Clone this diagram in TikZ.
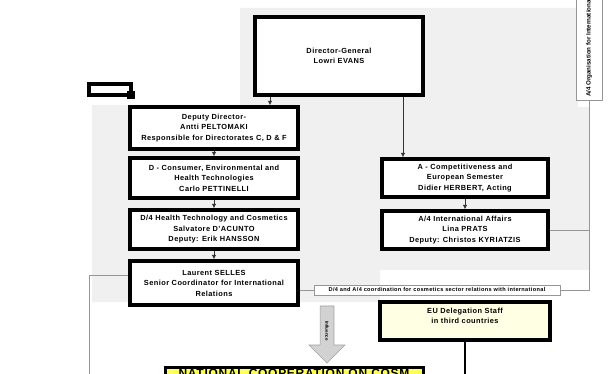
\documentclass[tikz,border=0pt]{standalone}
\usepackage{fontspec}
\setmainfont{Liberation Sans}
\usetikzlibrary{arrows.meta,shapes.arrows,positioning}

\definecolor{panelgrey}{RGB}{240,240,240}
\definecolor{linkgrey}{RGB}{150,150,150}
\definecolor{delcream}{RGB}{255,255,228}
\definecolor{natyellow}{RGB}{255,255,90}

\newcommand{\boxfont}{\bfseries\fontsize{7.4}{10.5}\selectfont\addfontfeatures{LetterSpace=6}}

\tikzset{
  orgbox/.style={draw, line width=3.2pt, fill=white, align=center, inner sep=0pt,
    font=\boxfont},
  lbox/.style={orgbox, minimum width=168pt, minimum height=40pt},
  rbox/.style={orgbox, minimum width=166pt, minimum height=38pt},
  downarrow/.style={-{Latex[length=4.5pt,width=4.5pt]}, line width=0.9pt, draw=black!80},
  linkline/.style={line width=0.8pt, draw=linkgrey},
}

\begin{document}
\begin{tikzpicture}[x=1pt,y=-1pt]
    \useasboundingbox (0,0) rectangle (608,374);
    \clip (0,0) rectangle (608,374);

    % Grey panel behind the chart
    \fill[panelgrey] (92,105) -- (240,105) -- (240,8) -- (578,8) -- (578,107)
        -- (590,107) -- (590,270) -- (380,270) -- (380,302) -- (92,302) -- cycle;

    % Minimised window icon
    \draw[line width=3.2pt] (89,84) rectangle (131,95);
    \fill (127,91) rectangle (135,99);

    % Director-General
    \node[orgbox, minimum width=168pt, minimum height=78pt] (dg) at (339,56)
        {Director-General\\Lowri EVANS};

    % Left column
    \node[lbox, minimum height=42pt] (deputy) at (214,128)
        {Deputy Director-\\Antti PELTOMAKI\\Responsible for Directorates C, D \& F};
    \node[lbox] (dirD) at (214,178)
        {D - Consumer, Environmental and\\Health Technologies\\Carlo PETTINELLI};
    \node[lbox, minimum height=39pt] (unitD4) at (214,229.5)
        {D/4 Health Technology and Cosmetics\\Salvatore D'ACUNTO\\Deputy: Erik HANSSON};
    \node[lbox, minimum height=44pt] (selles) at (214,283)
        {Laurent SELLES\\Senior Coordinator for International\\Relations};

    % Right column
    \node[rbox] (dirA) at (465,178)
        {A - Competitiveness and\\European Semester\\Didier HERBERT, Acting};
    \node[rbox] (unitA4) at (465,230)
        {A/4 International Affairs\\Lina PRATS\\Deputy: Christos KYRIATZIS};
    \node[orgbox, fill=delcream, minimum width=170pt, minimum height=38pt] (eudel) at (465,321)
        {EU Delegation Staff\\in third countries\\~};

    % Notes
    \node[draw=linkgrey, fill=white, line width=0.6pt, minimum width=246pt, minimum height=10pt,
        inner sep=0pt, font=\bfseries\fontsize{5.6}{6}\selectfont\addfontfeatures{LetterSpace=6}] (note) at (437,290)
        {D/4 and A/4 coordination for cosmetics sector relations with international};
    \node[draw=linkgrey, fill=white, line width=0.6pt, rotate=90, minimum width=106pt,
        minimum height=26pt, inner sep=2pt, font=\bfseries\fontsize{6.2}{7}\selectfont] (vtext) at (589,47)
        {\makebox[100pt][l]{A/4 Organisation for International}};

    % Influence arrow and national cooperation
    \node[single arrow, draw=gray!75, fill=gray!35, line width=0.6pt, rotate=-90,
        minimum height=57pt, single arrow head extend=11pt, inner xsep=2pt, inner ysep=5pt,
        font=\bfseries\fontsize{4.5}{5}\selectfont] (infl) at (327,331) {Influence};
    \node[draw, line width=3pt, fill=natyellow, anchor=north, minimum width=258pt,
        inner sep=1.5pt, font=\bfseries\fontsize{12}{13}\selectfont\addfontfeatures{LetterSpace=6}] (natl) at (294,366)
        {NATIONAL COOPERATION ON COSM};

    % Reporting lines
    \coordinate (dgL) at ([xshift=-69pt]dg.south);
    \coordinate (dgR) at ([xshift=64pt]dg.south);
    \draw[downarrow] (dgL) -- (dgL |- deputy.north);
    \draw[downarrow] (dgR) -- (dgR |- dirA.north);
    \draw[downarrow] (deputy) -- (dirD);
    \draw[downarrow] (dirD) -- (unitD4);
    \draw[downarrow] (unitD4) -- (selles);
    \draw[downarrow] (dirA) -- (unitA4);

    % Coordination links
    \coordinate (leftfoot) at (89,380);
    \coordinate (delfoot) at (465,380);
    \draw[linkline] (selles.east |- note.west) -- (note.west);
    \draw[linkline] (note.east) -| (vtext.west);
    \draw[linkline] (unitA4.east) -- (unitA4.east -| vtext.west);
    \draw[linkline] ([yshift=8pt]selles.west) -| (leftfoot);
    \draw[line width=1.6pt] (eudel.south) -- (delfoot);
\end{tikzpicture}
\end{document}
